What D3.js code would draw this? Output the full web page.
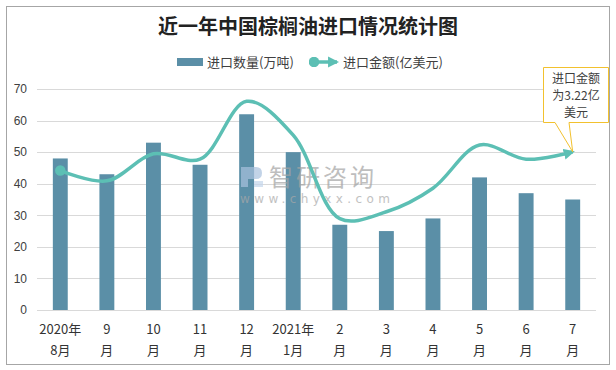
<!DOCTYPE html>
<html><head><meta charset="utf-8">
<script src="https://cdn.jsdelivr.net/npm/d3@7"></script>
<style>
html,body{margin:0;padding:0;background:#fff;}
text{font-family:"Noto Sans CJK SC","Microsoft YaHei",sans-serif;}
</style></head>
<body>
<svg id="chart" width="616" height="370"></svg>
<script>
const categories = ["2020年\n8月","9\n月","10\n月","11\n月","12\n月","2021年\n1月","2\n月","3\n月","4\n月","5\n月","6\n月","7\n月"];
const volume = [48, 43, 53, 46, 62, 50, 27, 25, 29, 42, 37, 35];          // 进口数量(万吨)
const amount = [2.84, 2.63, 3.18, 3.07, 4.25, 3.56, 1.86, 2.0, 2.48, 3.36, 3.07, 3.22]; // 进口金额(亿美元)
const yTicks = [0, 10, 20, 30, 40, 50, 60, 70];
const title = "近一年中国棕榈油进口情况统计图";
const legendLabels = ["进口数量(万吨)", "进口金额(亿美元)"];
const calloutLines = ["进口金额", "为3.22亿", "美元"];

const svg = d3.select("#chart");
const barColor = "#5b8fa7", lineColor = "#5cbfb4";

svg.append("rect").attr("x", 6.5).attr("y", 6.5).attr("width", 603).attr("height", 358)
  .attr("fill", "#fff").attr("stroke", "#a6a6a6").attr("stroke-width", 1);

svg.append("text").attr("x", 308).attr("y", 34).attr("text-anchor", "middle")
  .attr("font-size", 20).attr("font-weight", "bold").attr("fill", "#222").text(title);

const x = d3.scaleBand().domain(categories).range([37, 596]).paddingInner(0.68).paddingOuter(0.34);
const y = d3.scaleLinear().domain([0, 70]).range([310, 89]);
const y2 = d3.scaleLinear().domain([0, 4.5]).range([310, 89]);

// grid
svg.append("g").selectAll("line").data(yTicks).join("line")
  .attr("x1", 37).attr("x2", 596).attr("y1", d => Math.round(y(d)) + 0.5).attr("y2", d => Math.round(y(d)) + 0.5)
  .attr("stroke", "#d9d9d9").attr("stroke-width", 1);

// y axis labels
const yAxis = d3.axisLeft(y).tickValues(yTicks).tickSize(0).tickPadding(0);
const ya = svg.append("g").attr("transform", "translate(27,0)").call(yAxis);
ya.select(".domain").remove();
ya.selectAll("text").attr("font-size", 12).attr("fill", "#404040")
  .style("font-family", "'Liberation Sans',Arial,sans-serif");

// bars
svg.append("g").selectAll("rect").data(volume).join("rect")
  .attr("x", (d, i) => x(categories[i])).attr("width", x.bandwidth())
  .attr("y", d => y(d)).attr("height", d => y(0) - y(d)).attr("fill", barColor);

// watermark (over bars)
const wm = svg.append("g").attr("opacity", 0.7);
wm.append("path").attr("d", "M241,167 H256 Q262,167 262,173 Q262,179 256,179 H248 V187 H241 Z").attr("fill", "#a9c1de");
wm.append("rect").attr("x", 254).attr("y", 181).attr("width", 9).attr("height", 6).attr("fill", "#c4d6ec");
wm.append("text").attr("x", 269).attr("y", 186).attr("font-size", 24).attr("fill", "#a3a3a3")
  .attr("letter-spacing", 3).text("智研咨询");
wm.append("text").attr("x", 240).attr("y", 203).attr("font-size", 12).attr("fill", "#a8a8a8")
  .attr("letter-spacing", 4.4).style("font-family", "'DejaVu Sans',sans-serif").text("www.chyxx.com");

// x labels
const xl = svg.append("g");
categories.forEach((c, i) => {
  const parts = c.split("\n");
  const t = xl.append("text").attr("x", x(c) + x.bandwidth() / 2).attr("text-anchor", "middle")
    .attr("font-size", 13).attr("fill", "#333");
  parts.forEach((p, j) => t.append("tspan").attr("x", x(c) + x.bandwidth() / 2).attr("y", 334 + j * 21).text(p));
});

// line
const defs = svg.append("defs");
defs.append("marker").attr("id", "arrow").attr("viewBox", "0 0 10 10").attr("refX", 8).attr("refY", 5)
  .attr("markerWidth", 3.2).attr("markerHeight", 3.2).attr("orient", "auto")
  .append("path").attr("d", "M0,0 L10,5 L0,10 Z").attr("fill", lineColor);
defs.append("marker").attr("id", "dot").attr("viewBox", "0 0 10 10").attr("refX", 5).attr("refY", 5)
  .attr("markerWidth", 3).attr("markerHeight", 3)
  .append("circle").attr("cx", 5).attr("cy", 5).attr("r", 5).attr("fill", lineColor);

const line = d3.line().x((d, i) => x(categories[i]) + x.bandwidth() / 2).y(d => y2(d))
  .curve(d3.curveCatmullRom.alpha(0.5));
svg.append("path").datum(amount).attr("d", line).attr("fill", "none").attr("stroke", lineColor)
  .attr("stroke-width", 3.5).attr("marker-start", "url(#dot)").attr("marker-end", "url(#arrow)");

// legend
svg.append("rect").attr("x", 177).attr("y", 58).attr("width", 26).attr("height", 8).attr("fill", barColor);
svg.append("text").attr("x", 207).attr("y", 67).attr("font-size", 13).attr("fill", "#404040").text(legendLabels[0]);
svg.append("line").attr("x1", 314).attr("x2", 337).attr("y1", 62).attr("y2", 62).attr("stroke", lineColor)
  .attr("stroke-width", 3.5).attr("marker-start", "url(#dot)").attr("marker-end", "url(#arrow)");
svg.append("text").attr("x", 343).attr("y", 67).attr("font-size", 13).attr("fill", "#404040").text(legendLabels[1]);

// callout
const last = amount.length - 1;
const px = x(categories[last]) + x.bandwidth() / 2, py = y2(amount[last]);
const co = svg.append("g");
co.append("path").attr("d", `M543.5,67.5 H608.5 V122.5 H569 L${px},${py} L555,122.5 H543.5 Z`)
  .attr("fill", "#fff").attr("stroke", "#f2c12e").attr("stroke-width", 1);
calloutLines.forEach((l, i) => co.append("text").attr("x", 576).attr("y", 83 + i * 17)
  .attr("text-anchor", "middle").attr("font-size", 12).attr("fill", "#404040").text(l));
</script>
</body></html>
